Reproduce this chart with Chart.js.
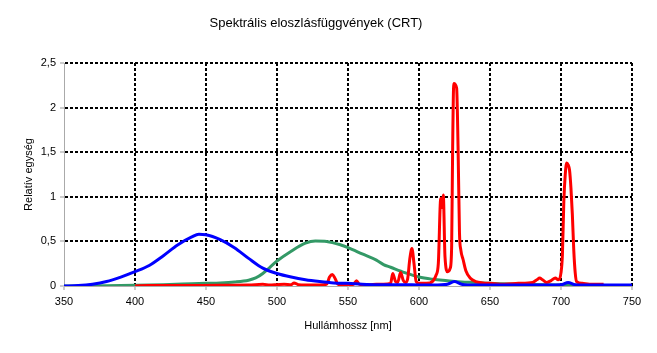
<!DOCTYPE html>
<html>
<head>
<meta charset="utf-8">
<script src="https://cdn.jsdelivr.net/npm/chart.js@4.4.0/dist/chart.umd.min.js"></script>
<style>
  html, body { margin: 0; padding: 0; background: #fff; }
  #wrap { width: 657px; height: 353px; }
</style>
</head>
<body>
<div id="wrap"><canvas id="c" width="657" height="353"></canvas></div>
<script>
const chartTitle = 'Spektrális eloszlásfüggvények (CRT)';
const xTitle = 'Hullámhossz [nm]';
const yTitle = 'Relatív egység';
const xTicks = [350, 400, 450, 500, 550, 600, 650, 700, 750];
const yTicks = [0, 0.5, 1, 1.5, 2, 2.5];

const blueWl  = [350, 360, 370, 380, 390, 400, 410, 420, 430, 440, 445, 450, 460, 470, 480, 490, 500, 510, 520, 530, 540, 550, 560, 570, 580, 590, 600, 610, 620, 625, 630, 640, 660, 680, 700, 705, 710, 720, 750];
const blueVal = [0.0, 0.005, 0.02, 0.05, 0.10, 0.16, 0.23, 0.34, 0.46, 0.55, 0.58, 0.575, 0.52, 0.43, 0.31, 0.20, 0.14, 0.10, 0.07, 0.05, 0.035, 0.03, 0.02, 0.015, 0.015, 0.015, 0.012, 0.012, 0.02, 0.05, 0.02, 0.01, 0.01, 0.01, 0.015, 0.04, 0.015, 0.01, 0.01];

const greenWl  = [350, 380, 400, 420, 440, 450, 460, 470, 480, 485, 490, 495, 500, 510, 520, 527, 535, 545, 550, 560, 570, 575, 580, 590, 600, 610, 620, 630, 640, 650, 670, 700, 750];
const greenVal = [0.0, 0.003, 0.008, 0.015, 0.025, 0.03, 0.035, 0.045, 0.065, 0.09, 0.14, 0.21, 0.28, 0.39, 0.48, 0.505, 0.50, 0.46, 0.43, 0.36, 0.29, 0.24, 0.21, 0.15, 0.10, 0.075, 0.06, 0.045, 0.04, 0.03, 0.02, 0.01, 0.005];

const redWl  = [400, 410, 430, 460, 480, 490, 495, 500, 505, 510, 512, 515, 520, 530, 535, 537, 539, 541, 543, 550, 554, 556, 558, 565, 570, 575, 580, 581.5, 583.5, 585, 587, 589, 590.5, 592, 593.5, 595, 596.5, 598, 600, 605, 610, 612, 613.6, 615.3, 616.2, 617.1, 618.3, 620.2, 622, 623, 623.7, 624.5, 626.5, 627.5, 628.5, 629.5, 631, 633, 636, 640, 645, 650, 660, 670, 680, 683, 685, 687, 690, 693, 696, 698, 700, 701, 702, 703, 704, 705, 706, 707, 708, 709, 710, 711, 715, 720, 730];
const redVal = [0.0, 0.005, 0.005, 0.008, 0.01, 0.02, 0.01, 0.015, 0.02, 0.015, 0.035, 0.015, 0.01, 0.01, 0.02, 0.10, 0.13, 0.08, 0.02, 0.01, 0.02, 0.06, 0.02, 0.015, 0.02, 0.02, 0.03, 0.14, 0.05, 0.04, 0.15, 0.06, 0.04, 0.08, 0.30, 0.42, 0.25, 0.05, 0.03, 0.03, 0.06, 0.12, 0.25, 0.98, 0.88, 1.02, 0.33, 0.16, 0.20, 0.45, 1.56, 2.27, 2.22, 1.56, 0.60, 0.40, 0.30, 0.17, 0.09, 0.05, 0.035, 0.03, 0.02, 0.03, 0.04, 0.07, 0.09, 0.07, 0.04, 0.06, 0.09, 0.07, 0.15, 0.35, 0.95, 1.25, 1.38, 1.36, 1.30, 1.10, 0.80, 0.40, 0.15, 0.05, 0.03, 0.02, 0.02];

const toPts = (xs, ys) => xs.map((x, i) => ({ x: x, y: ys[i] }));
const FONT = "'Liberation Sans', Arial, Helvetica, sans-serif";

new Chart(document.getElementById('c'), {
  type: 'line',
  data: {
    datasets: [
      { label: 'Kék', data: toPts(blueWl, blueVal), borderColor: '#0000ff', borderWidth: 3, pointRadius: 0, cubicInterpolationMode: 'monotone', order: 0 },
      { label: 'Vörös', data: toPts(redWl, redVal), borderColor: '#ff0000', borderWidth: 3, pointRadius: 0, cubicInterpolationMode: 'monotone', order: 1 },
      { label: 'Zöld', data: toPts(greenWl, greenVal), borderColor: '#339966', borderWidth: 3, pointRadius: 0, cubicInterpolationMode: 'monotone', order: 2 }
    ]
  },
  options: {
    responsive: false,
    animation: false,
    events: [],
    layout: { padding: { left: 0, right: 25, top: 0, bottom: 0 } },
    plugins: {
      legend: { display: false },
      tooltip: { enabled: false },
      title: {
        display: true,
        text: chartTitle,
        color: '#000',
        font: { family: FONT, size: 13, weight: 'normal' },
        padding: { top: 16, bottom: 31.4 }
      }
    },
    scales: {
      x: {
        type: 'linear',
        min: xTicks[0],
        max: xTicks[xTicks.length - 1],
        afterBuildTicks: (s) => { s.ticks = xTicks.map(v => ({ value: v })); },
        afterFit: (s) => { s.height = 67; },
        ticks: { color: '#000', font: { family: FONT, size: 11 }, padding: 5, maxRotation: 0 },
        grid: {
          color: (ctx) => (ctx.tick && ctx.tick.value === xTicks[0]) ? 'rgba(0,0,0,0)' : '#000',
          lineWidth: 2,
          drawTicks: true,
          tickLength: 4,
          tickColor: '#999',
          tickWidth: 1
        },
        border: { display: true, color: '#aaa', width: 1, dash: [3, 2] },
        title: { display: true, text: xTitle, color: '#000', font: { family: FONT, size: 11 }, padding: { top: 0, bottom: 20 } }
      },
      y: {
        min: yTicks[0],
        max: yTicks[yTicks.length - 1],
        afterBuildTicks: (s) => { s.ticks = yTicks.map(v => ({ value: v })); },
        afterFit: (s) => { s.width = 64; },
        ticks: {
          color: '#000',
          font: { family: FONT, size: 11 },
          padding: 4,
          callback: (v) => String(v).replace('.', ',')
        },
        grid: {
          color: (ctx) => (ctx.tick && ctx.tick.value === yTicks[0]) ? 'rgba(0,0,0,0)' : '#000',
          lineWidth: 2,
          drawTicks: true,
          tickLength: 4,
          tickColor: '#999',
          tickWidth: 1
        },
        border: { display: true, color: '#aaa', width: 1, dash: [3, 2] },
        title: { display: true, text: yTitle, color: '#000', font: { family: FONT, size: 11 }, padding: { top: 22, bottom: 0 } }
      }
    }
  }
});
</script>
</body>
</html>
